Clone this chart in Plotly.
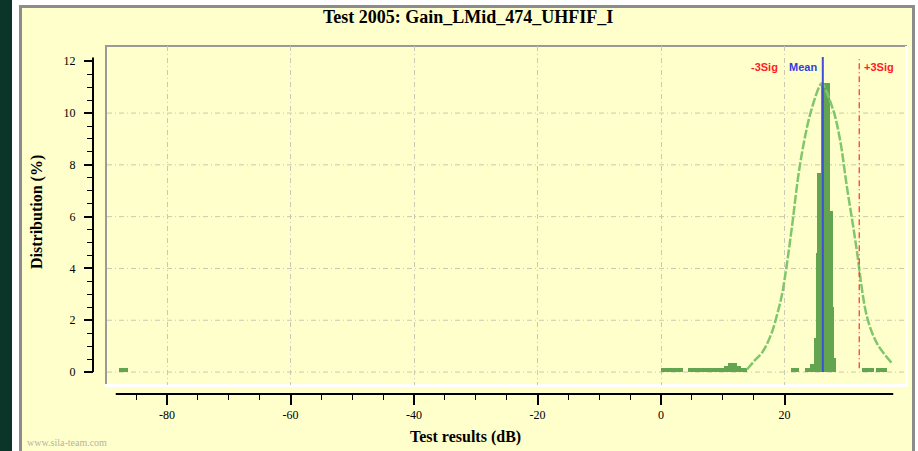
import plotly.graph_objects as go

# ---------------- data ----------------
TITLE = "Test 2005: Gain_LMid_474_UHFIF_I"
X_TITLE = "Test results (dB)"
Y_TITLE = "Distribution (%)"

# histogram bins (left edge, right edge in dB) and height (%)
BIN_LEFT = [-87.8, 0.0, 4.4, 10.2, 10.9, 12.3, 13.0, 21.0, 23.3, 24.1, 24.8, 25.1,
            25.2, 25.9, 27.3, 27.8, 28.0, 32.6, 34.8]
BIN_RIGHT = [-86.3, 3.6, 10.2, 10.9, 12.3, 13.0, 14.0, 22.4, 24.1, 24.8, 25.1, 25.2,
             25.9, 27.3, 27.8, 28.0, 28.3, 34.5, 36.6]
BIN_HEIGHT = [0.15, 0.15, 0.15, 0.25, 0.35, 0.25, 0.15, 0.15, 0.15, 0.3, 1.3, 4.6,
              7.7, 11.15, 6.2, 2.5, 0.55, 0.15, 0.15]

# fitted distribution curve
CURVE_X = [13.9, 15.0, 16.5, 17.9, 19.0, 19.6, 20.4, 21.2, 22.5, 24.2, 25.8, 26.05,
           27.9, 29.0, 30.1, 31.2, 31.7, 33.35, 35.0, 37.4]
CURVE_Y = [0.1, 0.4, 0.8, 1.5, 2.4, 3.0, 4.2, 5.6, 8.0, 10.0, 11.1, 11.15,
           10.1, 8.96, 7.15, 5.5, 4.7, 2.14, 1.1, 0.34]

MEAN = 26.2
UPPER = 32.1
LOWER = 20.3
MARKER_LABELS = ["-3Sig", "Mean", "+3Sig"]

X_TICKS = [-80, -60, -40, -20, 0, 20]
X_TICK_LABELS = ["-80", "-60", "-40", "-20", "0", "20"]
Y_TICKS = [0, 2, 4, 6, 8, 10, 12]
Y_GRID = [0, 2, 4, 6, 8, 10]

WATERMARK = "www.sila-team.com"

# ---------------- layout helpers ----------------
W, H = 918, 451
L, R, T, B = 93, 13, 46, 57
PW, PH = W - L - R, H - T - B


def px_x(px):
    return (px - L) / PW


def px_y(py):
    return (H - B - py) / PH


SERIF = "Liberation Serif"
YELLOW = "#FFFFCC"

fig = go.Figure()

centers = [(a + b) / 2 for a, b in zip(BIN_LEFT, BIN_RIGHT)]
widths = [b - a for a, b in zip(BIN_LEFT, BIN_RIGHT)]
fig.add_trace(go.Bar(x=centers, y=BIN_HEIGHT, width=widths,
                     marker=dict(color="#63a450", line=dict(width=0)),
                     hoverinfo="x+y", showlegend=False))
fig.add_trace(go.Scatter(x=CURVE_X, y=CURVE_Y, mode="lines",
                         line=dict(color="#80c66c", width=2.5, dash="9px,2px", shape="spline"),
                         showlegend=False))

shapes = []
# outer panel
shapes.append(dict(type="rect", xref="paper", yref="paper", layer="below",
                   x0=px_x(12), x1=px_x(918), y0=px_y(451), y1=px_y(0),
                   fillcolor="white", line=dict(width=0)))
shapes.append(dict(type="rect", xref="paper", yref="paper", layer="below",
                   x0=px_x(19), x1=px_x(915), y0=px_y(451), y1=px_y(5),
                   fillcolor="#8c8c8c", line=dict(width=0)))
shapes.append(dict(type="rect", xref="paper", yref="paper", layer="below",
                   x0=px_x(22), x1=px_x(912), y0=px_y(451), y1=px_y(8),
                   fillcolor=YELLOW, line=dict(width=0)))
# plot frame (inset look)
shapes.append(dict(type="line", xref="paper", yref="paper", layer="below",
                   x0=px_x(105), x1=px_x(907), y0=px_y(46), y1=px_y(46),
                   line=dict(color="#9a9a9a", width=2)))
shapes.append(dict(type="line", xref="paper", yref="paper", layer="below",
                   x0=px_x(106), x1=px_x(106), y0=px_y(46), y1=px_y(386),
                   line=dict(color="#9a9a9a", width=2)))
shapes.append(dict(type="line", xref="paper", yref="paper", layer="below",
                   x0=px_x(105), x1=px_x(908), y0=px_y(385.5), y1=px_y(385.5),
                   line=dict(color="white", width=3)))
shapes.append(dict(type="line", xref="paper", yref="paper", layer="below",
                   x0=px_x(906.5), x1=px_x(906.5), y0=px_y(46), y1=px_y(386),
                   line=dict(color="white", width=3)))
# horizontal grid
for g in Y_GRID:
    shapes.append(dict(type="line", xref="paper", yref="y", layer="below",
                       x0=px_x(107), x1=px_x(905), y0=g, y1=g,
                       line=dict(color="#c9c9b2", width=1, dash="5px,3px,1px,3px")))
# axis lines
shapes.append(dict(type="line", xref="x", yref="paper", layer="above",
                   x0=-88.3, x1=37.6, y0=0, y1=0, line=dict(color="black", width=2)))
shapes.append(dict(type="line", xref="paper", yref="y", layer="above",
                   x0=0, x1=0, y0=0, y1=12.15, line=dict(color="black", width=2)))
# mean and limit lines
shapes.append(dict(type="line", xref="x", yref="y", layer="above",
                   x0=MEAN, x1=MEAN, y0=0, y1=12.17,
                   line=dict(color="#3f4fd6", width=2)))
shapes.append(dict(type="line", xref="x", yref="y", layer="above",
                   x0=UPPER, x1=UPPER, y0=0.15, y1=12.17,
                   line=dict(color="#ff3b3b", width=1.3, dash="6px,3px,1px,3px")))

annotations = [
    dict(text="<b>" + TITLE + "</b>", xref="paper", yref="paper",
         x=px_x(468), y=px_y(17), xanchor="center", yanchor="middle", showarrow=False,
         font=dict(family=SERIF, size=18, color="black")),
    dict(text="<b>" + X_TITLE + "</b>", xref="paper", yref="paper",
         x=px_x(465), y=px_y(437), xanchor="center", yanchor="middle", showarrow=False,
         font=dict(family=SERIF, size=16, color="black")),
    dict(text="<b>" + Y_TITLE + "</b>", xref="paper", yref="paper",
         x=px_x(37), y=px_y(212), xanchor="center", yanchor="middle",
         showarrow=False, textangle=-90,
         font=dict(family=SERIF, size=16, color="black")),
    dict(text=WATERMARK, xref="paper", yref="paper",
         x=px_x(25), y=px_y(442), xanchor="left", yanchor="middle", showarrow=False,
         font=dict(family=SERIF, size=10, color="#b4b4a4")),
    dict(text="<b>" + MARKER_LABELS[0] + "</b>", xref="x", yref="y",
         x=LOWER, y=11.78, xanchor="right", yanchor="middle", xshift=-6, showarrow=False,
         font=dict(family="Liberation Sans", size=11, color="#ff2020")),
    dict(text="<b>" + MARKER_LABELS[1] + "</b>", xref="x", yref="y",
         x=MEAN, y=11.78, xanchor="right", yanchor="middle", xshift=-4, showarrow=False,
         font=dict(family="Liberation Sans", size=11, color="#3040e0")),
    dict(text="<b>" + MARKER_LABELS[2] + "</b>", xref="x", yref="y",
         x=UPPER, y=11.78, xanchor="left", yanchor="middle", xshift=3, showarrow=False,
         font=dict(family="Liberation Sans", size=11, color="#ff2020")),
]

x_minor = [v for v in range(-85, 21, 5) if v not in X_TICKS]
y_minor = [v / 2 for v in range(1, 24) if v % 4 != 0]

fig.update_layout(
    width=W, height=H,
    margin=dict(l=L, r=R, t=T, b=B, pad=0),
    paper_bgcolor="#0c3529",
    plot_bgcolor=YELLOW,
    shapes=shapes,
    annotations=annotations,
    bargap=0,
    showlegend=False,
    xaxis=dict(domain=[px_x(105), 1], anchor="free", position=0,
               range=[-90.04, 39.51], tickvals=X_TICKS, ticktext=X_TICK_LABELS,
               ticks="outside", ticklen=10, tickwidth=1.5, tickcolor="black",
               showline=False, zeroline=False,
               showgrid=True, gridcolor="#c9c9b2", gridwidth=1, griddash="5px,3px,1px,3px",
               minor=dict(tickvals=x_minor, ticks="outside", ticklen=5, tickwidth=1,
                          tickcolor="black", showgrid=False),
               tickfont=dict(family=SERIF, size=12, color="black")),
    yaxis=dict(domain=[px_y(385), 1], anchor="free", position=0,
               range=[-0.5, 12.59], tickvals=Y_TICKS,
               ticks="outside", ticklen=9, tickwidth=1.5, tickcolor="black",
               showline=False, zeroline=False, showgrid=False,
               ticklabelstandoff=6,
               minor=dict(tickvals=y_minor, ticks="outside", ticklen=6, tickwidth=1,
                          tickcolor="black", showgrid=False),
               tickfont=dict(family=SERIF, size=12, color="black")),
)

fig.write_html("out.html",
               config={"displayModeBar": False},
               post_script="document.body.style.margin='0px';document.body.style.overflow='hidden';")
